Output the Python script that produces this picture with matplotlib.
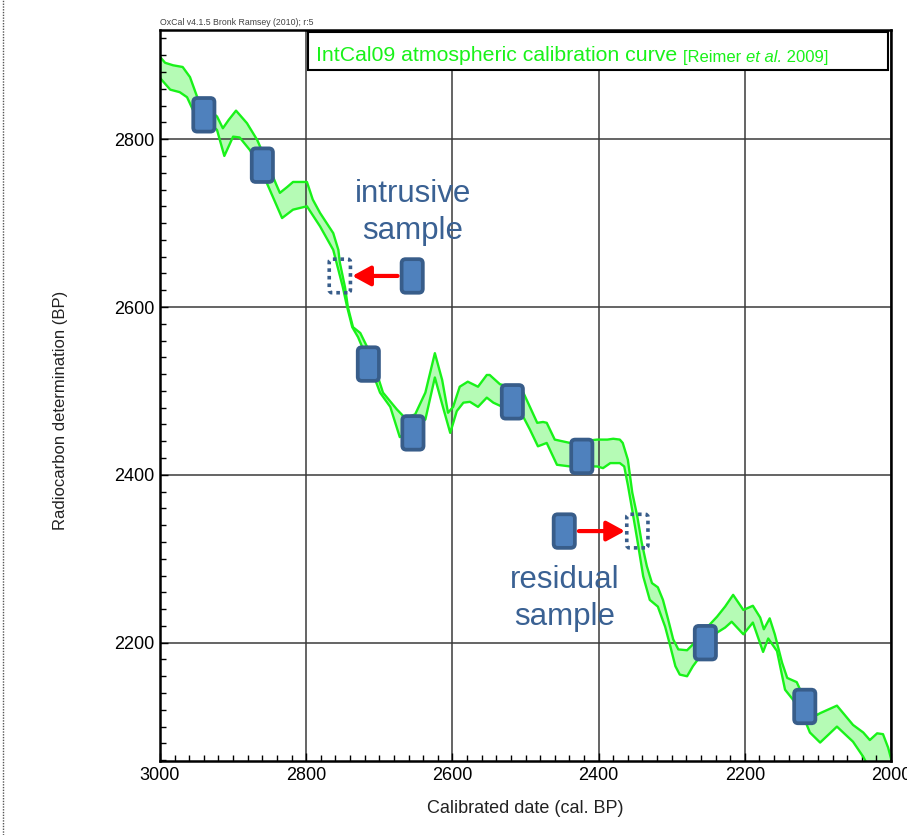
import matplotlib
matplotlib.use("Agg")
import matplotlib.pyplot as plt
from matplotlib.patches import FancyBboxPatch, Rectangle
from matplotlib.ticker import MultipleLocator
import numpy as np

plt.rcParams['font.family'] = ['Liberation Sans', 'DejaVu Sans']

# ---- calibration curve (upper / lower 1-sigma envelope) ----
years_upper = [3000,2993,2982,2969,2959,2949,2936,2922,2914,2906,2896,2881,2867,2852,2841,2836,2826,2818,2799,2791,
               2781,2763,2756,2754,2747,2743,2736,2726,2717,2706,2695,2676,2665,2651,2637,2624,2614,2606,2599,2590,
               2579,2565,2553,2549,2535,2518,2503,2494,2484,2476,2471,2460,2439,2423,2402,2388,2380,2371,2367,2360,
               2354,2347,2341,2334,2327,2319,2312,2305,2298,2291,2279,2271,2254,2238,2227,2216,2202,2189,2179,2174,
               2166,2159,2149,2142,2129,2118,2101,2097,2074,2052,2038,2029,2019,2011,2004,2000]
c14_upper = [2898,2891,2888,2886,2874,2850,2837,2827,2813,2823,2834,2819,2799,2769,2746,2736,2743,2749,2749,2728,
             2712,2688,2668,2653,2624,2600,2576,2569,2553,2528,2498,2478,2468,2472,2498,2545,2513,2474,2481,2505,
             2511,2505,2519,2519,2508,2504,2498,2481,2462,2463,2462,2442,2438,2440,2442,2442,2443,2442,2438,2418,
             2379,2350,2319,2291,2271,2266,2251,2228,2204,2192,2191,2198,2216,2231,2243,2257,2239,2244,2230,2216,
             2229,2210,2176,2158,2153,2132,2114,2116,2125,2102,2093,2084,2092,2091,2075,2062]

years_lower = [3000,2986,2973,2963,2955,2938,2922,2912,2900,2891,2877,2863,2854,2833,2818,2799,2781,2763,2750,2744,
               2737,2729,2715,2699,2685,2672,2655,2637,2624,2613,2603,2594,2585,2576,2565,2553,2544,2524,2503,2494,
               2483,2471,2457,2439,2421,2402,2394,2384,2371,2365,2360,2354,2347,2339,2330,2319,2309,2302,2295,2289,
               2279,2271,2254,2238,2227,2218,2202,2189,2175,2168,2156,2145,2134,2118,2111,2097,2074,2052,2038,2029,
               2015,2000]
c14_lower = [2873,2859,2856,2850,2835,2823,2811,2780,2803,2802,2787,2766,2748,2706,2716,2720,2696,2668,2624,2600,
             2576,2564,2535,2498,2481,2445,2454,2466,2516,2481,2450,2476,2486,2487,2481,2492,2486,2478,2469,2454,
             2434,2438,2412,2410,2410,2410,2408,2414,2414,2410,2388,2358,2322,2279,2251,2243,2219,2196,2172,2162,
             2160,2172,2192,2212,2218,2225,2210,2224,2189,2205,2190,2144,2132,2108,2093,2081,2100,2082,2064,2049,
             2043,2055]

# ---- samples ----
sample_years = [2940, 2860, 2655, 2715, 2654, 2518, 2423, 2447, 2254, 2118]
sample_c14   = [2829, 2769, 2637, 2532, 2450, 2487, 2422, 2333, 2200, 2124]
# shifted (true) positions of the outliers
moved_years = [2754, 2347]
moved_c14   = [2637, 2333]

x_ticks = [3000, 2800, 2600, 2400, 2200, 2000]
y_ticks = [2200, 2400, 2600, 2800]

BOX_W = 29     # years
BOX_H = 40     # 14C yr
FILL = '#4f81bd'
EDGE = '#385d8a'
TXT = '#3a6193'
GREEN = '#19f219'
LIGHT = '#b5fbb5'

fig = plt.figure(figsize=(9.07, 8.35), dpi=100)
ax = fig.add_axes([0.1764, 0.0886, 0.806, 0.8754])

ax.set_xlim(3000, 2000)
ax.set_ylim(2059, 2930)

# curve envelope
poly_x = np.concatenate([years_upper, years_lower[::-1]])
poly_y = np.concatenate([c14_upper, c14_lower[::-1]])
ax.fill(poly_x, poly_y, facecolor=LIGHT, edgecolor='none', zorder=1)
ax.plot(years_upper, c14_upper, color=GREEN, lw=1.7, zorder=3, solid_joinstyle='round')
ax.plot(years_lower, c14_lower, color=GREEN, lw=1.7, zorder=3, solid_joinstyle='round')

# grid
ax.set_axisbelow(False)
ax.set_xticks(x_ticks)
ax.set_yticks(y_ticks)
ax.xaxis.set_minor_locator(MultipleLocator(20))
ax.yaxis.set_minor_locator(MultipleLocator(20))
ax.grid(True, which='major', color='#3a3a3a', lw=1.1, zorder=2.5)

def box(x, y, dotted=False):
    if dotted:
        p = FancyBboxPatch((x - BOX_W / 2, y - BOX_H / 2), BOX_W, BOX_H,
                           boxstyle="round,pad=0,rounding_size=4",
                           mutation_aspect=0.87, facecolor='none', edgecolor=EDGE,
                           lw=2.6, linestyle=(0, (1, 1.1)), zorder=4)
    else:
        p = FancyBboxPatch((x - BOX_W / 2, y - BOX_H / 2), BOX_W, BOX_H,
                           boxstyle="round,pad=0,rounding_size=5.5",
                           mutation_aspect=0.87, facecolor=FILL, edgecolor=EDGE,
                           lw=2.7, zorder=4)
    ax.add_patch(p)

for xv, yv in zip(sample_years, sample_c14):
    box(xv, yv)
for xv, yv in zip(moved_years, moved_c14):
    box(xv, yv, dotted=True)

# arrows (from the plotted sample to its shifted position)
arrow_style = '-|>,head_length=0.55,head_width=0.3'
ax.annotate('', xy=(moved_years[0] - 17, moved_c14[0]), xytext=(sample_years[2] + 20, sample_c14[2]),
            arrowprops=dict(arrowstyle=arrow_style, color='#ff0000', lw=3, mutation_scale=20,
                            shrinkA=0, shrinkB=0), zorder=5)
ax.annotate('', xy=(moved_years[1] + 17, moved_c14[1]), xytext=(sample_years[7] - 20, sample_c14[7]),
            arrowprops=dict(arrowstyle=arrow_style, color='#ff0000', lw=3, mutation_scale=20,
                            shrinkA=0, shrinkB=0), zorder=5)

ax.text(2654, 2713, 'intrusive\nsample', color=TXT, fontsize=22.5, ha='center', va='center',
        linespacing=1.3, zorder=6)
ax.text(2446, 2253, 'residual\nsample', color=TXT, fontsize=22.5, ha='center', va='center',
        linespacing=1.3, zorder=6)

# ticks & spines
ax.tick_params(which='both', direction='in', top=False, right=False, labelsize=13, pad=4, color='black')
ax.tick_params(which='major', length=6, width=1)
ax.tick_params(which='minor', length=4, width=1)
for s in ax.spines.values():
    s.set_linewidth(1.8)
    s.set_color('black')
    s.set_zorder(7)

ax.set_xlabel('Calibrated date (cal. BP)', fontsize=13, color='#222222')
ax.xaxis.set_label_coords(0.5, -0.053)
ax.set_ylabel('Radiocarbon determination (BP)', fontsize=12, color='#222222')
ax.yaxis.set_label_coords(-0.126, 0.48)

# header / legend box
ax.text(0.0, 1.004, 'OxCal v4.1.5 Bronk Ramsey (2010); r:5', transform=ax.transAxes,
        fontsize=6.3, color='#444444', ha='left', va='bottom')
ax.add_patch(Rectangle((0.2025, 0.945), 0.7935, 0.052, transform=ax.transAxes,
                       facecolor='white', edgecolor='black', lw=1.5, zorder=8, clip_on=False))
t1 = ax.text(0.2134, 0.958, 'IntCal09 atmospheric calibration curve', transform=ax.transAxes,
             fontsize=15.3, color=GREEN, ha='left', va='baseline', zorder=9)
t2 = ax.annotate('[Reimer ', xy=(1, 0), xycoords=t1, xytext=(4, 0),
                 textcoords='offset points', fontsize=12, color=GREEN, ha='left', va='bottom', zorder=9)
t3 = ax.annotate('et al.', xy=(1, 0), xycoords=t2, fontsize=12, fontstyle='italic',
                 color=GREEN, ha='left', va='bottom', zorder=9)
ax.annotate(' 2009]', xy=(1, 0), xycoords=t3, fontsize=12,
            color=GREEN, ha='left', va='bottom', zorder=9)

# dotted frame at the left edge of the figure
fig.add_artist(plt.Line2D([0.003, 0.003], [0.0, 1.0], transform=fig.transFigure,
                          color='#555555', lw=1, linestyle=(0, (1, 1))))

fig.savefig('out.png', dpi=100)
